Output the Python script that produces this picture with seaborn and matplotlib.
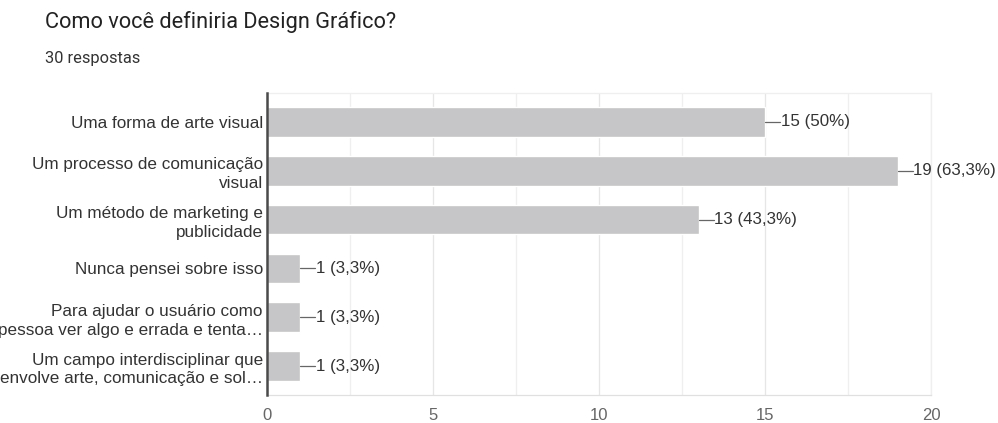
import matplotlib
matplotlib.use("Agg")
import matplotlib.pyplot as plt
import seaborn as sns
import pandas as pd
from matplotlib.ticker import MultipleLocator

categories = [
    "Uma forma de arte visual",
    "Um processo de comunicação\nvisual",
    "Um método de marketing e\npublicidade",
    "Nunca pensei sobre isso",
    "Para ajudar o usuário como\npessoa ver algo e errada e tenta…",
    "Um campo interdisciplinar que\nenvolve arte, comunicação e sol…",
]
counts = [15, 19, 13, 1, 1, 1]
percent_labels = ["50%", "63,3%", "43,3%", "3,3%", "3,3%", "3,3%"]
x_ticks = [0, 5, 10, 15, 20]

title = "Como você definiria Design Gráfico?"
subtitle = "30 respostas"

sns.set_theme(style="white")
plt.rcParams["font.family"] = ["Liberation Sans", "DejaVu Sans"]
heading_font = ["Roboto", "DejaVu Sans"]

df = pd.DataFrame({"categoria": categories, "respostas": counts})

W, H = 998, 423
fig = plt.figure(figsize=(W / 100, H / 100), dpi=100)
fig.patch.set_facecolor("white")

left, right, top, bottom = 267, 931, 93, 395
ax = fig.add_axes([left / W, 1 - bottom / H, (right - left) / W, (bottom - top) / H])

sns.barplot(data=df, y="categoria", x="respostas", orient="h",
            color="#c6c5c7", saturation=1, width=0.61, ax=ax, zorder=3)

ax.set_xlim(0, 20)
ax.set_xticks(x_ticks)
ax.xaxis.set_minor_locator(MultipleLocator(2.5))
ax.grid(True, axis="x", which="major", color="#e6e6e6", linewidth=0.9, zorder=0)
ax.grid(True, axis="x", which="minor", color="#efefef", linewidth=0.9, zorder=0)
ax.set_xlabel("")
ax.set_ylabel("")

for side in ["top", "right"]:
    ax.spines[side].set_color("#efefef")
    ax.spines[side].set_linewidth(0.9)
ax.spines["bottom"].set_color("#e0e0e0")
ax.spines["bottom"].set_linewidth(0.9)
ax.spines["left"].set_color("#4a4a4a")
ax.spines["left"].set_linewidth(1.8)
ax.spines["left"].set_zorder(5)

ax.tick_params(axis="x", which="both", length=0, labelsize=12,
               labelcolor="#666666", pad=9)
ax.tick_params(axis="y", length=0, labelsize=12.3, labelcolor="#333333", pad=3)

# value annotations with a short leader line
for i, (v, p) in enumerate(zip(counts, percent_labels)):
    ax.plot([v, v + 0.45], [i, i], color="#666666", linewidth=0.9,
            zorder=4, clip_on=False)
    ax.text(v + 0.47, i, f"{v} ({p})", va="center", ha="left",
            fontsize=12.2, color="#333333", zorder=4, clip_on=False)

fig.text(45 / W, 1 - 28 / H, title, fontsize=15.7, color="#222222",
         ha="left", va="baseline", family=heading_font)
fig.text(45 / W, 1 - 63 / H, subtitle, fontsize=11.8, color="#333333",
         ha="left", va="baseline", family=heading_font)

# wrapped category labels: set line spacing once the tick labels exist
fig.canvas.draw()
for lbl in ax.get_yticklabels():
    lbl.set_linespacing(1.3)

fig.savefig("out.png", dpi=100, facecolor="white")
